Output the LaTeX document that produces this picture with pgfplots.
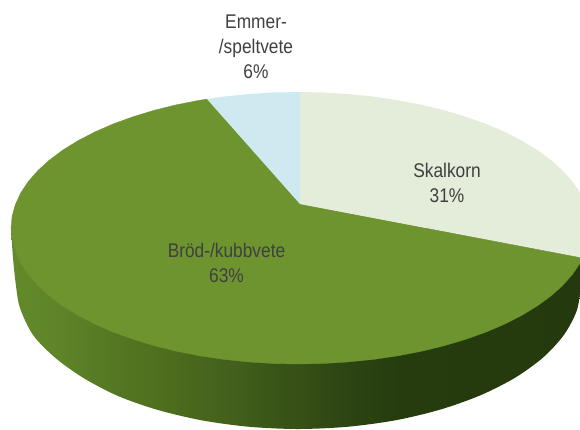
\documentclass[border=0pt]{standalone}
\usepackage{fontspec}
\setmainfont{Liberation Sans}
\newfontfamily\labfont[FakeStretch=0.875]{Liberation Sans}
\usepackage{pgfplots}
\pgfplotsset{compat=1.18}
\definecolor{topgreen}{RGB}{110,148,48}
\definecolor{topbeige}{RGB}{228,236,218}
\definecolor{topblue}{RGB}{207,233,241}
\definecolor{labeltxt}{RGB}{64,64,64}
\definecolor{sA}{RGB}{98,138,42}
\definecolor{sB}{RGB}{94,132,40}
\definecolor{sC}{RGB}{85,120,35}
\definecolor{sD}{RGB}{80,113,31}
\definecolor{sE}{RGB}{72,102,28}
\definecolor{sK}{RGB}{64,94,26}
\definecolor{sF}{RGB}{58,86,24}
\definecolor{sG}{RGB}{54,80,22}
\definecolor{sH}{RGB}{44,68,18}
\definecolor{sI}{RGB}{38,60,14}
\definecolor{sJ}{RGB}{36,58,14}
\pgfdeclarehorizontalshading{pieside}{100bp}{color(0bp)=(sA); color(25bp)=(sA); color(29.2bp)=(sB); color(33.5bp)=(sC); color(37bp)=(sD); color(41.3bp)=(sE); color(45.2bp)=(sK); color(47.4bp)=(sF); color(50bp)=(sG); color(54.3bp)=(sH); color(58.6bp)=(sI); color(75bp)=(sJ); color(100bp)=(sJ)}
\begin{document}
\begin{tikzpicture}
\begin{axis}[
  width=580pt, height=429pt, scale only axis,
  xmin=0, xmax=580, ymin=0, ymax=429, y dir=reverse,
  hide axis,
]
\path (axis cs:0,0) rectangle (axis cs:580,429);
% side wall
\addplot[draw=none, shading=pieside, smooth, tension=0.5, no markers] coordinates {
(11,228)(13,258)(16,286)(20,308)(33,335)(55.5,358)(83.5,378)(118,396)(158,410)(202.2,420.4)(249.4,426.8)(298,429)(347.1,426.8)(394.8,420.4)(439.5,409.8)(479.9,395.5)(514.8,377.9)(543.1,357.5)(563.9,334.9)(576.7,310.8)(581,286)(584,262)(590,228)
};
% Bröd-/kubbvete 63%
\addplot[fill=topgreen, draw=topgreen, line width=0.3pt, no markers] coordinates {
(300,204)(583.5,258)(580,263.2)(572.4,274.5)(562.6,285.5)(550.9,296)(537.2,306)(521.7,315.4)(504.5,324.2)(485.7,332.2)(465.5,339.4)(444,345.8)(421.4,351.3)(397.9,355.8)(373.6,359.4)(348.7,361.9)(323.5,363.5)(298,364)(273,363.5)(248.2,361.9)(223.7,359.4)(199.8,355.8)(176.7,351.3)(154.5,345.8)(133.4,339.4)(113.5,332.2)(95.1,324.2)(78.1,315.4)(62.9,306)(49.5,296)(37.9,285.5)(28.3,274.5)(20.8,263.2)(15.4,251.6)(12.1,239.9)(11,228)(12.1,216.1)(15.4,204.4)(20.8,192.8)(28.3,181.5)(37.9,170.5)(49.5,160)(62.9,150)(78.1,140.6)(95.1,131.8)(113.5,123.8)(133.4,116.6)(154.5,110.2)(176.7,104.7)(199.8,100.2)(207,99)(300,204)
};
% Emmer-/speltvete 6%
\addplot[fill=topblue, draw=none, no markers] coordinates {
(300,204)(207,99)(223.7,96.6)(248.2,94.1)(273,92.5)(300,92)
};
% Skalkorn 31%
\addplot[fill=topbeige, draw=none, no markers] coordinates {
(300,204)(300,92)(323.5,92.5)(348.7,94.1)(373.6,96.6)(397.9,100.2)(421.4,104.7)(444,110.2)(465.5,116.6)(485.7,123.8)(504.5,131.8)(521.7,140.6)(537.2,150)(550.9,160)(562.6,170.5)(572.4,181.5)(580,192.8)(585.6,204.4)(588.9,216.1)(590,228)(588.9,239.9)(585.6,251.6)(583.5,258)
};
\tikzset{lab/.style={anchor=base, text=labeltxt, inner sep=0pt, font=\labfont\fontsize{19.8}{22}\selectfont}}
\node[lab] at (axis cs:256,28) {Emmer-};
\node[lab] at (axis cs:256,53) {/speltvete};
\node[lab] at (axis cs:256,78) {6\%};
\node[lab] at (axis cs:447,177) {Skalkorn};
\node[lab] at (axis cs:447,202) {31\%};
\node[lab] at (axis cs:226.5,257) {Bröd-/kubbvete};
\node[lab] at (axis cs:226.5,282) {63\%};
\end{axis}
\end{tikzpicture}
\end{document}
